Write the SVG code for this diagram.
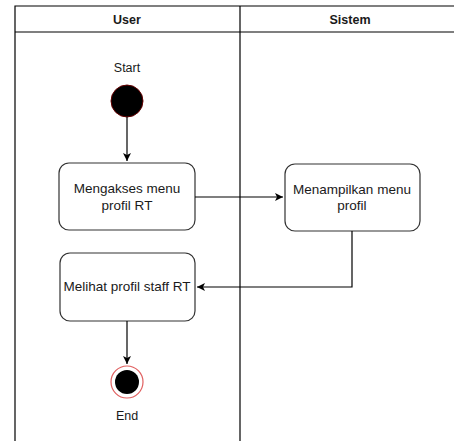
<svg xmlns="http://www.w3.org/2000/svg" width="454" height="441" viewBox="0 0 454 441">
<style>
text{font-family:"Liberation Sans",Arial,sans-serif;font-size:13.5px;fill:#1a1a1a;text-anchor:middle}
.h{font-weight:bold;font-size:12.5px}
.l{font-size:12.5px}
.lane{fill:none;stroke:#000;stroke-width:1.2}
.act{fill:#fff;stroke:#333;stroke-width:1.2}
.c{fill:none;stroke:#000;stroke-width:1.2}
</style>
<defs>
<marker id="ar" markerWidth="10" markerHeight="10" refX="8" refY="5" orient="auto" markerUnits="userSpaceOnUse">
<path d="M0,1 L8,5 L0,9 L2,5 Z" fill="#000"/>
</marker>
</defs>
<rect width="454" height="441" fill="#fff"/>
<g id="pool">
<path class="lane" d="M15,441 V6 H454 M15,32 H454 M240,6 V441"/>
<text class="h" x="127" y="24">User</text>
<text class="h" x="350" y="24">Sistem</text>
</g>
<g id="start">
<text class="l" x="127" y="72">Start</text>
<circle cx="127" cy="101" r="16" fill="#000" stroke="#600" stroke-width="1"/>
</g>
<g id="n1">
<rect class="act" x="59" y="163" width="136" height="67" rx="10"/>
<text x="127" y="193">Mengakses menu</text>
<text x="127" y="210">profil RT</text>
</g>
<g id="n2">
<rect class="act" x="285" y="164" width="135" height="67" rx="10"/>
<text x="352" y="194">Menampilkan menu</text>
<text x="352" y="210">profil</text>
</g>
<g id="n3">
<rect class="act" x="60" y="253" width="135" height="68" rx="10"/>
<text x="127" y="291">Melihat profil staff RT</text>
</g>
<g id="end">
<circle cx="127" cy="382" r="16" fill="#fff" stroke="#e06060" stroke-width="1.2"/>
<circle cx="127" cy="382" r="12" fill="#000"/>
<text class="l" x="127" y="420">End</text>
</g>
<g id="connectors">
<path class="c" d="M127,117 V161" marker-end="url(#ar)"/>
<path class="c" d="M195,197 H283" marker-end="url(#ar)"/>
<path class="c" d="M352,231 V287 H197" marker-end="url(#ar)"/>
<path class="c" d="M127,321 V364" marker-end="url(#ar)"/>
</g>
</svg>
